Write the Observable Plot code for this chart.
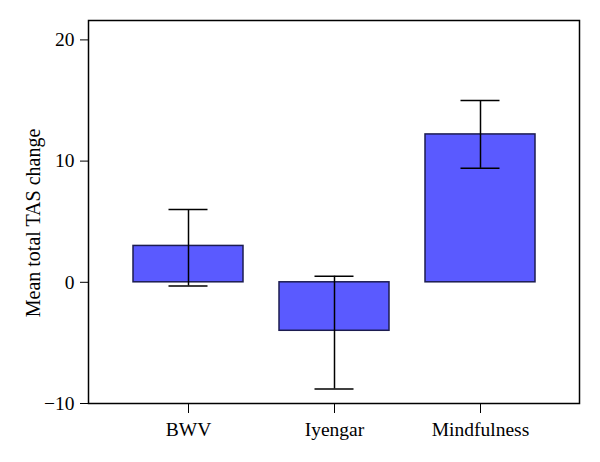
<!DOCTYPE html>
<html>
<head>
<meta charset="utf-8">
<script src="https://cdn.jsdelivr.net/npm/d3@7"></script>
<script src="https://cdn.jsdelivr.net/npm/@observablehq/plot@0.6"></script>
<style>
  html, body { margin: 0; padding: 0; background: #fff; }
  svg { font-family: "Liberation Serif", "DejaVu Serif", serif; }
</style>
</head>
<body>
<div id="chart"></div>
<script>
const groups = ["BWV", "Iyengar", "Mindfulness"];
const means = [3.0, -4.0, 12.2];
const lower = [-0.3, -8.8, 9.4];
const upper = [6.0, 0.5, 15.0];
const yTicks = [-10, 0, 10, 20];
const yTitle = "Mean total TAS change";

const data = groups.map((g, i) => ({group: g, mean: means[i], lo: lower[i], hi: upper[i]}));

const chart = Plot.plot({
  width: 600,
  height: 462,
  marginLeft: 88,
  marginRight: 21,
  marginTop: 20,
  marginBottom: 59,
  style: {fontFamily: "'Liberation Serif', 'DejaVu Serif', serif", fontSize: "19.5px", color: "#000", background: "#fff"},
  x: {domain: groups, paddingInner: 0.247, paddingOuter: 0.303, label: null, tickSize: 10, tickPadding: 9},
  y: {domain: [-10, 21.6], ticks: yTicks, tickSize: 8, tickPadding: 6, label: null},
  marks: [
    Plot.barY(data, {x: "group", y: "mean", fill: "#5a5aff", stroke: "#1c1c50", strokeWidth: 1.5}),
    Plot.ruleX(data, {x: "group", y1: "lo", y2: "hi", stroke: "#000", strokeWidth: 1.5}),
    Plot.tickY(data, {x: "group", y: "lo", stroke: "#000", strokeWidth: 1.5, insetLeft: 35.5, insetRight: 35.5}),
    Plot.tickY(data, {x: "group", y: "hi", stroke: "#000", strokeWidth: 1.5, insetLeft: 35.5, insetRight: 35.5}),
    Plot.frame({stroke: "#000", strokeWidth: 1.5}),
    Plot.text([yTitle], {text: d => d, frameAnchor: "left", textAnchor: "middle", rotate: -90, dx: -55, dy: 11, fontSize: 20, fill: "#000"})
  ]
});
document.getElementById("chart").appendChild(chart);
</script>
</body>
</html>
